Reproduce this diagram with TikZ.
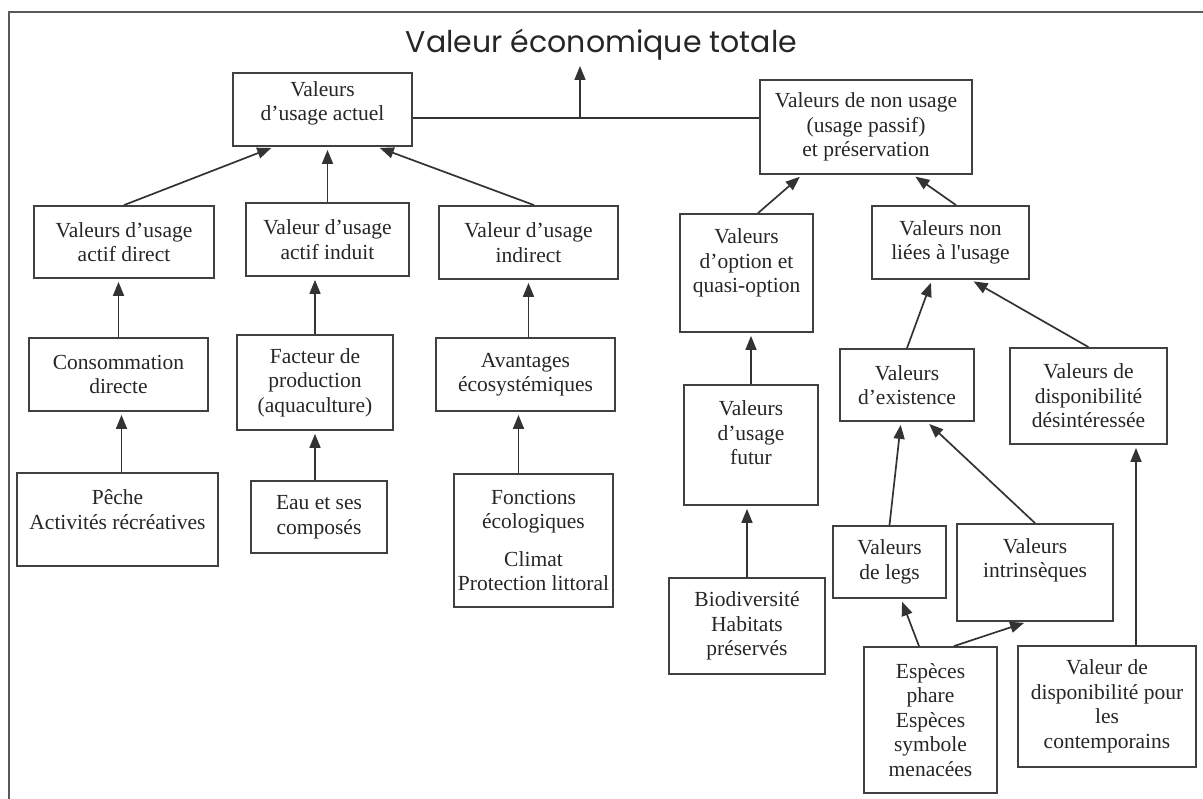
\documentclass[tikz,border=0pt]{standalone}
\usepackage{fontspec}
\setmainfont{Liberation Serif}
\newfontfamily\titlefont{Poppins}
\usetikzlibrary{arrows.meta}
\begin{document}
\begin{tikzpicture}[x=1pt,y=-1pt]
	\tikzset{box/.style = {shape=rectangle,draw=black!75,line width=1.8pt,align=center,text=black!85,font=\fontsize{21.5}{24.5}\selectfont,inner sep=2pt}}
	\tikzset{link/.style = {->,> = {Triangle[length=14pt,width=11pt]},draw=black!80,line width=1.7pt,shorten >=3pt}}
	\useasboundingbox (0,0) rectangle (1203,799);
	\draw[black!65,line width=1.8pt] (9,799) -- (9,12) -- (1203,12);
	\node[text=black!85,font=\titlefont\fontsize{30}{36}\selectfont,anchor=base,inner sep=2pt] (tot) at (601.5,53) {Valeur économique totale};
	\node[box,minimum width=179pt,minimum height=73pt] (act) at (322.5,109.5) {Valeurs\\d’usage actuel\\[-8pt]\mbox{}};
	\node[box,minimum width=212pt,minimum height=94pt] (non) at (866,127) {Valeurs de non usage\\(usage passif)\\et préservation};
	\node[box,minimum width=180pt,minimum height=72pt] (actd) at (124,242) {Valeurs d’usage\\actif direct};
	\node[box,minimum width=163pt,minimum height=73pt] (acti) at (327.5,239.5) {Valeur d’usage\\actif induit};
	\node[box,minimum width=179pt,minimum height=73pt] (indi) at (528.5,242.5) {Valeur d’usage\\indirect};
	\node[box,minimum width=179pt,minimum height=73pt] (cons) at (118.5,374.5) {Consommation\\directe};
	\node[box,minimum width=156pt,minimum height=95pt] (fact) at (315,382.5) {Facteur de\\production\\(aquaculture)};
	\node[box,minimum width=179pt,minimum height=73pt] (avan) at (525.5,374.5) {Avantages\\écosystémiques};
	\node[box,minimum width=201pt,minimum height=93pt] (peche) at (117.5,519.5) {Pêche\\Activités récréatives\\[-4.5pt]\mbox{}};
	\node[box,minimum width=136pt,minimum height=72pt] (eau) at (319,517) {Eau et ses\\composés};
	\node[box,minimum width=159pt,minimum height=133pt] (fonc) at (533.5,540.5) {Fonctions\\écologiques\\[13pt]Climat\\Protection littoral};
	\node[box,minimum width=133pt,minimum height=118pt] (opt) at (746.5,273) {Valeurs\\d’option et\\quasi-option\\\mbox{}};
	\node[box,minimum width=157pt,minimum height=73pt] (nonl) at (950.5,242.5) {Valeurs non\\liées à l\textquotesingle usage};
	\node[box,minimum width=134pt,minimum height=120pt] (fut) at (751,445) {Valeurs\\d’usage\\futur\\\mbox{}};
	\node[box,minimum width=156pt,minimum height=96pt] (bio) at (747,626) {Biodiversité\\Habitats\\préservés};
	\node[box,minimum width=134pt,minimum height=72pt] (exis) at (907,385) {Valeurs\\d’existence};
	\node[box,minimum width=157pt,minimum height=96pt] (desi) at (1088.5,396) {Valeurs de\\disponibilité\\désintéressée};
	\node[box,minimum width=113pt,minimum height=72pt] (legs) at (889.5,562) {Valeurs\\de legs};
	\node[box,minimum width=156pt,minimum height=97pt] (intr) at (1035,572.5) {Valeurs\\intrinsèques\\[4pt]\mbox{}};
	\node[box,minimum width=133pt,minimum height=146pt] (esp) at (930.5,720) {Espèces\\phare\\Espèces\\symbole\\menacées};
	\node[box,minimum width=178pt,minimum height=121pt] (cont) at (1107,706.5) {Valeur de\\disponibilité pour\\les\\contemporains};
	\coordinate (j) at (580,118);
	\draw[black!80,line width=1.7pt] (act.east |- j) -- (non.west |- j);
	\path (j) edge[link] (j |- tot.south);
	\path (actd.north) edge[link] ([xshift=-48.5pt]act.south);
	\path (acti.north) edge[link] (acti.north |- act.south);
	\path ([xshift=5.5pt]indi.north) edge[link] ([xshift=54.5pt]act.south);
	\path (cons.north) edge[link] (cons.north |- actd.south);
	\path (fact.north) edge[link] (fact.north |- acti.south);
	\path (indi |- avan.north) edge[link] (indi.south);
	\path ([xshift=4pt]peche.north) edge[link] ([xshift=4pt]peche.north |- cons.south);
	\path (fact |- eau.north) edge[link] (fact.south);
	\path ([xshift=-7pt]avan.south |- fonc.north) edge[link] ([xshift=-7pt]avan.south);
	\path ([xshift=11.5pt]opt.north) edge[link] ([xshift=-64pt]non.south);
	\path ([xshift=5.5pt]nonl.north) edge[link] ([xshift=47pt]non.south);
	\path (fut.north) edge[link] (fut.north |- opt.south);
	\path (bio.north) edge[link] (bio.north |- fut.south);
	\path (exis.north) edge[link] ([xshift=-18.5pt]nonl.south);
	\path (desi.north) edge[link] ([xshift=20.5pt]nonl.south);
	\path (legs.north) edge[link] ([xshift=-6pt]exis.south);
	\path (intr.north) edge[link] ([xshift=20pt]exis.south);
	\path ([xshift=-11.5pt]esp.north) edge[link] ([xshift=11.5pt]legs.south);
	\path ([xshift=23.5pt]esp.north) edge[link] ([xshift=-8pt]intr.south);
	\path ([xshift=29pt]cont.north) edge[link] ([xshift=29pt]cont.north |- desi.south);
\end{tikzpicture}
\end{document}
